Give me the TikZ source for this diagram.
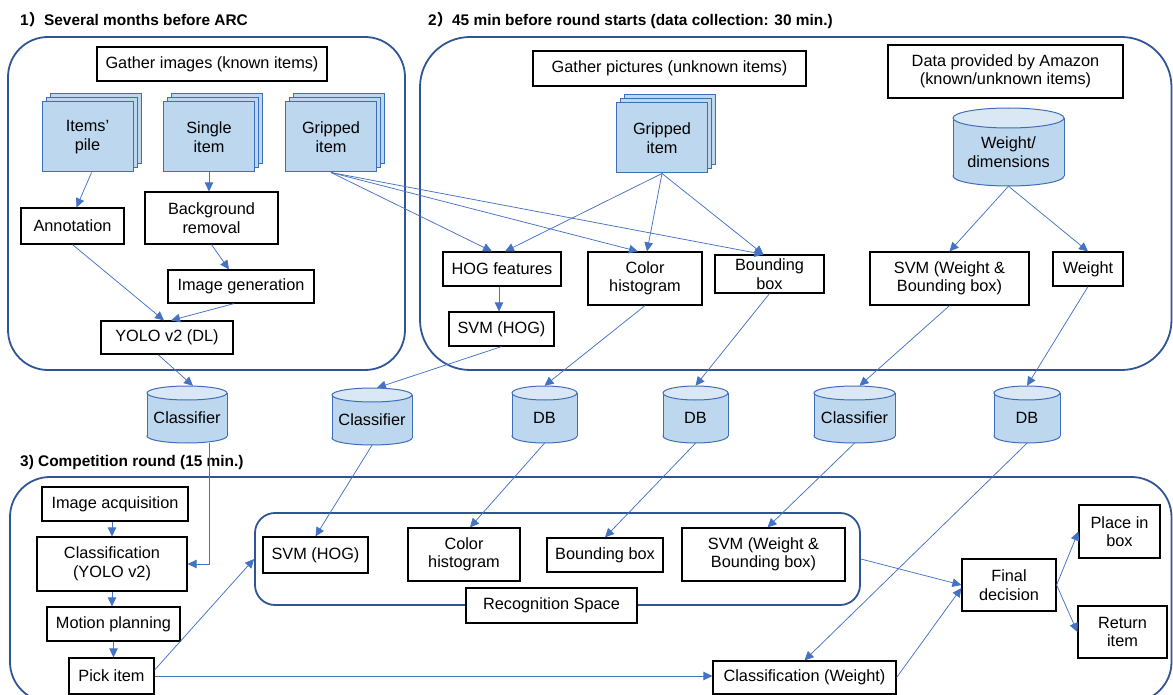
\documentclass[tikz,border=0pt]{standalone}
\usepackage{fontspec}
\setmainfont{Liberation Sans}
\newfontfamily\cjkfont{Noto Sans CJK JP}
\usetikzlibrary{arrows.meta}
\definecolor{panelblue}{HTML}{2F5597}
\definecolor{linkblue}{HTML}{4472C4}
\definecolor{cardline}{HTML}{3F6EB8}
\definecolor{fillblue}{HTML}{BDD7EE}
\definecolor{topblue}{HTML}{DAE8F5}
\tikzset{
  txt/.style={font=\fontsize{16.3}{18.5}\selectfont},
  box/.style={txt, draw=black, line width=1.2pt, fill=white, align=center, inner sep=1pt},
  headbox/.style={box, line width=1.8pt},
  panel/.style={draw=panelblue, line width=1.8pt},
  link/.style={draw=linkblue, line width=0.75pt, -{Triangle[length=9pt,width=8.5pt]}},
  card/.style={draw=cardline, line width=1pt, fill=fillblue},
  stackcard/.style={txt, card, align=center, minimum width=91pt, minimum height=70pt, inner sep=0pt},
  cylbody/.style={txt, align=center, inner sep=0pt},
  cylline/.style={draw=cardline, line width=1pt},
  title/.style={font=\fontsize{15.4}{18}\selectfont\bfseries, anchor=west, inner sep=0pt},
}
\newcommand\stackcards[4]{%
  \foreach \dd in {8,4}{\filldraw[card] ({#2-45.5+\dd},{#3-35-\dd}) rectangle ({#2+45.5+\dd},{#3+35-\dd});}
  \node[stackcard] (#1) at (#2,#3) {#4};}
\newcommand\dbcyl[7]{%
  \pgfmathsetmacro\cylh{#4-#3-#6}%
  \pgfmathsetmacro\cylc{(#3+#6+#4)/2}%
  \filldraw[cylline, fill=fillblue] (#2,{#4-#6}) ellipse[x radius={#5/2}, y radius=#6];
  \fill[fillblue] ({#2-#5/2},{#3+#6}) rectangle ({#2+#5/2},{#4-#6});
  \draw[cylline] ({#2-#5/2},{#3+#6}) -- ({#2-#5/2},{#4-#6}) ({#2+#5/2},{#3+#6}) -- ({#2+#5/2},{#4-#6});
  \filldraw[cylline, fill=topblue] (#2,{#3+#6}) ellipse[x radius={#5/2}, y radius=#6];
  \node[cylbody, minimum width=#5pt, minimum height=\cylh pt] (#1) at (#2,\cylc) {#7};}
\begin{document}
\begin{tikzpicture}[x=1pt,y=-1pt]
\useasboundingbox (0,0) rectangle (1173,695);
% panels
\draw[panel, rounded corners=40pt] (8,37) rectangle (405,370);
\draw[panel, rounded corners=50pt] (420,37) rectangle (1171.5,370);
\draw[panel, rounded corners=40pt] (10,477) rectangle (1171.5,702);
% titles
\node[title] (t1) at (20,20) {1{\cjkfont ）}Several months before ARC};
\node[title] (t2) at (428,20) {2{\cjkfont ）}45 min before round starts (data collection: 30 min.)};
\node[title] (t3) at (20,463) {3) Competition round (15 min.)};
% panel 1
\node[headbox, minimum width=230pt, minimum height=34pt] (gather1) at (212,64) {Gather images (known items)};
\stackcards{pile}{87.5}{137}{Items’\\pile}
\stackcards{single}{209}{137}{Single\\item}
\stackcards{grip1}{331}{137}{Gripped\\item}
\node[box, minimum width=103pt, minimum height=36pt] (ann) at (72.5,226) {Annotation};
\node[box, minimum width=133pt, minimum height=52pt] (bgr) at (211.5,218) {Background\\removal};
\node[box, minimum width=146pt, minimum height=33pt] (imggen) at (241,286.5) {Image generation};
\node[box, minimum width=132pt, minimum height=33pt] (yolo) at (167,337.5) {YOLO v2 (DL)};
% panel 2
\node[headbox, minimum width=273pt, minimum height=35pt] (gather2) at (669.5,68.5) {Gather pictures (unknown items)};
\node[headbox, minimum width=235pt, minimum height=53pt] (amazon) at (1005.5,71.5) {Data provided by Amazon\\(known/unknown items)};
\stackcards{grip2}{662}{138}{Gripped\\item}
\dbcyl{wdim}{1008.5}{108}{186}{111}{10}{Weight/\\dimensions}
\node[box, minimum width=118pt, minimum height=34pt] (hog) at (502,269) {HOG features};
\node[box, minimum width=114pt, minimum height=53pt] (colh) at (645,278.5) {Color\\histogram};
\node[box, minimum width=109pt, minimum height=38pt] (bbox) at (769.5,274) {Bounding\\box};
\node[box, minimum width=105pt, minimum height=34pt] (svmhog) at (501.5,329) {SVM (HOG)};
\node[box, minimum width=159pt, minimum height=53pt] (svmwb) at (949.5,278.5) {SVM (Weight \&\\Bounding box)};
\node[box, minimum width=70pt, minimum height=34pt] (weight) at (1088,269) {Weight};
% storage row
\dbcyl{cls1}{187}{386}{443}{80}{7}{Classifier}
\dbcyl{cls2}{372}{388}{445}{80}{7}{Classifier}
\dbcyl{db1}{544.5}{386}{443}{65}{7}{DB}
\dbcyl{db2}{695.5}{386}{443}{65}{7}{DB}
\dbcyl{cls3}{854.5}{386}{443}{81}{7}{Classifier}
\dbcyl{db3}{1027}{386}{443}{66}{7}{DB}
% panel 3
\node[panel, rounded corners=20pt, minimum width=605pt, minimum height=92pt, inner sep=0pt] (recog) at (557.5,559) {};
\node[box, minimum width=146pt, minimum height=34pt] (imgacq) at (115,504) {Image acquisition};
\node[box, minimum width=150pt, minimum height=54pt] (clsyolo) at (112,564) {Classification\\(YOLO v2)};
\node[box, minimum width=133pt, minimum height=34pt] (motion) at (113.5,624) {Motion planning};
\node[box, minimum width=85pt, minimum height=36pt] (pick) at (111.5,676) {Pick item};
\node[box, minimum width=105pt, minimum height=36pt] (svmhog2) at (315.5,555) {SVM (HOG)};
\node[box, minimum width=112pt, minimum height=53pt] (colh2) at (464,554.5) {Color\\histogram};
\node[box, minimum width=116pt, minimum height=34pt] (bbox2) at (605,555) {Bounding box};
\node[box, minimum width=163pt, minimum height=53pt] (svmwb2) at (763.5,554.5) {SVM (Weight \&\\Bounding box)};
\node[headbox, minimum width=171pt, minimum height=35pt] (recoglabel) at (551.5,605.5) {Recognition Space};
\node[box, minimum width=183pt, minimum height=33pt] (clsw) at (804.5,677.5) {Classification (Weight)};
\node[box, minimum width=94pt, minimum height=52pt] (final) at (1009,585) {Final\\decision};
\node[box, minimum width=81pt, minimum height=53pt] (place) at (1119.5,531.5) {Place in\\box};
\node[box, minimum width=89pt, minimum height=52pt] (ret) at (1122.5,632) {Return\\item};
% connectors panel 1
\draw[link] ([xshift=4pt]pile.south) -- ([xshift=4pt]ann.north);
\draw[link] (single.south) -- (single.south |- bgr.north);
\draw[link] (bgr.south) -- ([xshift=-12pt]imggen.north);
\draw[link] (ann.south) -- ([xshift=-3pt]yolo.north);
\draw[link] ([xshift=-7pt]imggen.south) -- ([xshift=4pt]yolo.north);
\draw[link] ([xshift=-9pt]yolo.south) -- ([xshift=6pt,yshift=7pt]cls1.north);
\draw[link] (grip1.south) -- ([xshift=-10pt]hog.north);
\draw[link] (grip1.south) -- ([xshift=-7pt]colh.north);
\draw[link] (grip1.south) -- ([xshift=-6pt]bbox.north);
% connectors panel 2
\draw[link] (grip2.south) -- ([xshift=3pt]hog.north);
\draw[link] (grip2.south) -- ([xshift=2pt]colh.north);
\draw[link] (grip2.south) -- ([xshift=-6pt]bbox.north);
\draw[link] ([xshift=-3pt]hog.south) -- ([xshift=-3pt]hog.south |- svmhog.north);
\draw[link] (svmhog.south) -- ([xshift=5pt,yshift=7pt]cls2.north);
\draw[link] (colh.south) -- ([yshift=7pt]db1.north);
\draw[link] (bbox.south) -- ([yshift=7pt]db2.north);
\draw[link] (wdim.south) -- (svmwb.north);
\draw[link] (wdim.south) -- (weight.north);
\draw[link] (svmwb.south) -- ([xshift=5pt,yshift=7pt]cls3.north);
\draw[link] (weight.south) -- ([yshift=7pt]db3.north);
% storage to panel 3
\draw[link] ([xshift=22pt]cls1.south) |- (clsyolo.east);
\draw[link] (cls2.south) -- (svmhog2.north);
\draw[link] (db1.south) -- ([xshift=6pt]colh2.north);
\draw[link] (db2.south) -- (bbox2.north);
\draw[link] (cls3.south) -- ([xshift=4pt]svmwb2.north);
\draw[link] (db3.south) -- (clsw.north);
% panel 3 flow
\draw[link] (clsyolo.north |- imgacq.south) -- (clsyolo.north);
\draw[link] (clsyolo.south) -- (clsyolo.south |- motion.north);
\draw[link] (motion.south) -- (motion.south |- pick.north);
\draw[link] ([yshift=6pt]pick.east) -- (recog.west);
\draw[link] (pick.east) -- (pick.east -| clsw.west);
\draw[link] (recog.east) -- (final.west);
\draw[link] (clsw.east) -- ([yshift=-3pt]final.west);
\draw[link] (final.east) -- (place.west);
\draw[link] (final.east) -- (ret.west);
\end{tikzpicture}
\end{document}
